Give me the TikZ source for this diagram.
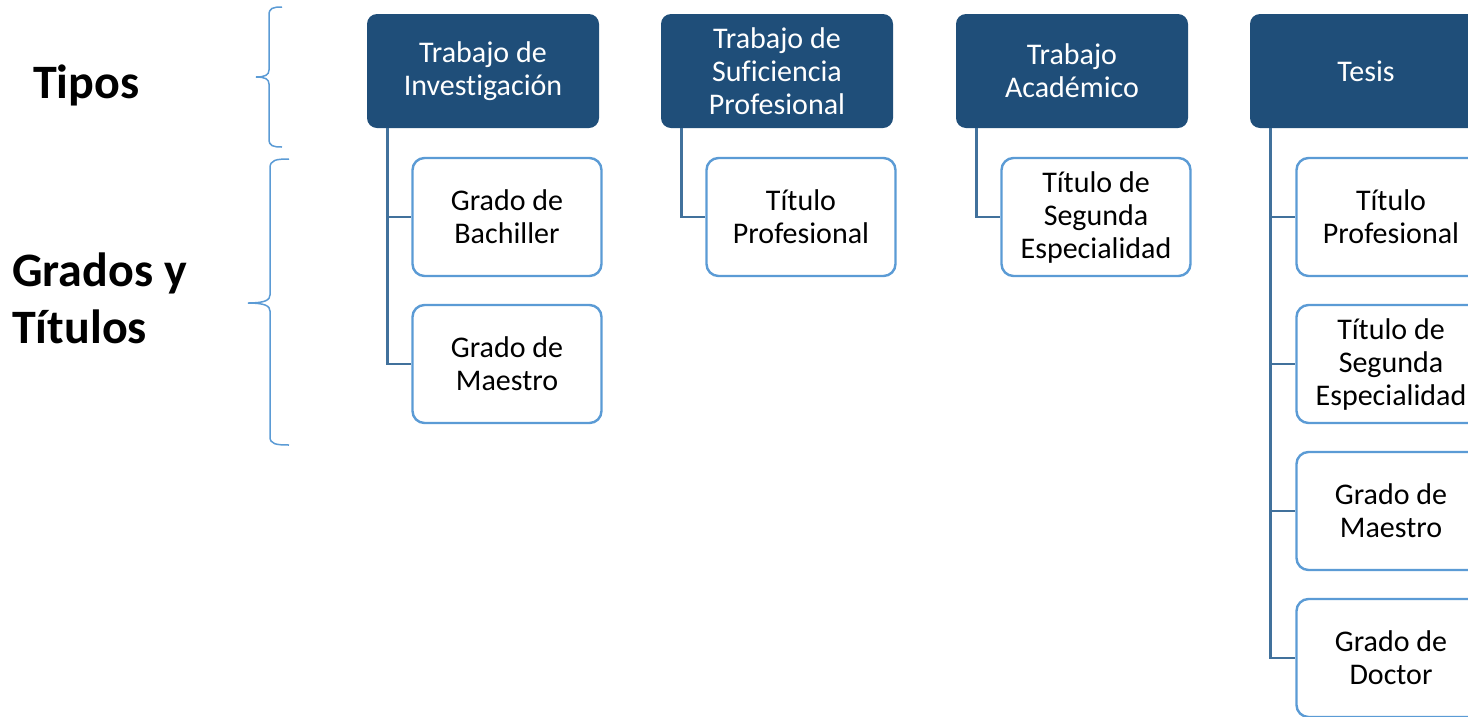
\documentclass[tikz,border=0pt]{standalone}
\usepackage{fontspec}
\setmainfont{Carlito}[Ligatures=NoCommon]
\definecolor{darkbox}{RGB}{31,78,121}
\definecolor{lightedge}{RGB}{91,155,213}
\definecolor{connector}{RGB}{65,113,156}
\tikzset{
  parentbox/.style={rectangle, rounded corners=10pt, fill=darkbox, text=white,
    minimum width=232pt, minimum height=114pt, inner sep=2pt, align=center,
    font=\fontsize{30}{33}\selectfont},
  childbox/.style={rectangle, rounded corners=12pt, draw=lightedge, line width=2.4pt,
    fill=white, text=black, minimum width=189pt, minimum height=118pt, inner sep=2pt,
    align=center, font=\fontsize{30}{33}\selectfont},
  link/.style={draw=connector, line width=2.8pt},
  bracestyle/.style={draw=lightedge, line width=1.5pt},
  sidelabel/.style={inner sep=0pt, align=left, font=\fontsize{48}{57}\selectfont\bfseries}
}
\begin{document}
\begin{tikzpicture}[x=1pt,y=-1pt]
\useasboundingbox (0,0) rectangle (1468,716);
\clip (0,0) rectangle (1468,716);

% side labels
\node[sidelabel, anchor=base west] (tipos) at (33,98) {Tipos};
\node[sidelabel, anchor=west] (grados) at (12,298) {Grados y\\Títulos};

% braces
\draw[bracestyle] (282,7) .. controls (273,7) and (269,8) .. (269,15) -- (269,70)
  .. controls (269,75) and (265,77) .. (256,77)
  .. controls (265,77) and (269,79) .. (269,84) -- (269,139)
  .. controls (269,146) and (273,147) .. (282,147);
\draw[bracestyle] (289,159) .. controls (276,159) and (270,160) .. (270,168) -- (270,295)
  .. controls (270,300) and (265,303) .. (248,303)
  .. controls (265,303) and (270,306) .. (270,311) -- (270,437)
  .. controls (270,444) and (276,445) .. (289,445);

% parent boxes
\node[parentbox] (p1) at (483,71) {Trabajo de\\Investigación};
\node[parentbox] (p2) at (777,71) {Trabajo de\\Suficiencia\\Profesional};
\node[parentbox] (p3) at (1072,71) {Trabajo\\Académico};
\node[parentbox] (p4) at (1366,71) {Tesis};

% child boxes
\node[childbox] (c11) at (507,217) {Grado de\\Bachiller};
\node[childbox] (c12) at (507,364) {Grado de\\Maestro};
\node[childbox] (c21) at (801,217) {Título\\Profesional};
\node[childbox] (c31) at (1096,217) {Título de\\Segunda\\Especialidad};
\node[childbox] (c41) at (1391,217) {Título\\Profesional};
\node[childbox] (c42) at (1391,364) {Título de\\Segunda\\Especialidad};
\node[childbox] (c43) at (1391,511) {Grado de\\Maestro};
\node[childbox] (c44) at (1391,658) {Grado de\\Doctor};

% connectors
\draw[link] ([xshift=21pt]p1.south west) |- (c11.west);
\draw[link] ([xshift=21pt]p1.south west) |- (c12.west);
\draw[link] ([xshift=21pt]p2.south west) |- (c21.west);
\draw[link] ([xshift=21pt]p3.south west) |- (c31.west);
\draw[link] ([xshift=21pt]p4.south west) |- (c41.west);
\draw[link] ([xshift=21pt]p4.south west) |- (c42.west);
\draw[link] ([xshift=21pt]p4.south west) |- (c43.west);
\draw[link] ([xshift=21pt]p4.south west) |- (c44.west);
\end{tikzpicture}
\end{document}
